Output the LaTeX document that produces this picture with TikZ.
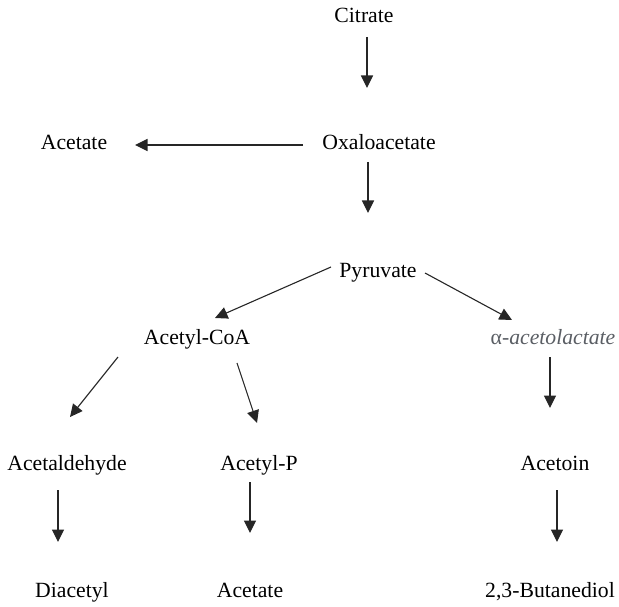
\documentclass[tikz,border=0pt]{standalone}
\usepackage{fontspec}
\setmainfont{Liberation Serif}
\usetikzlibrary{arrows.meta}
\definecolor{txtgray}{HTML}{5A5E64}
\begin{document}
\begin{tikzpicture}[x=1pt,y=-1pt,
  lbl/.style={anchor=base,inner sep=0pt,font=\fontsize{21.7}{26}\selectfont},
  arr/.style={line width=1.1pt,draw=black!85,-{Triangle[length=12.5pt,width=12pt]}}]
\useasboundingbox (0,0) rectangle (619,607);
\node[lbl] (cit) at (364,23) {Citrate};
\node[lbl] (oxa) at (379,150) {Oxaloacetate};
\node[lbl] (ac1) at (74,150) {Acetate};
\node[lbl] (pyr) at (378,277) {Pyruvate};
\node[lbl] (acoa) at (197,344) {Acetyl-CoA};
\node[lbl,text=txtgray] (aal) at (553,344) {α-\textit{acetolactate}};
\node[lbl] (ald) at (67,470) {Acetaldehyde};
\node[lbl] (acp) at (259,470) {Acetyl-P};
\node[lbl] (atn) at (555,470) {Acetoin};
\node[lbl] (dia) at (72,597) {Diacetyl};
\node[lbl] (ac2) at (250,597) {Acetate};
\node[lbl] (but) at (550,597) {2,3-Butanediol};
\draw[arr] ([shift={(3,14)}]cit.base) -- ([shift={(-12,-62)}]oxa.base);
\draw[arr] ([shift={(-76,-5)}]oxa.base) -- ([shift={(61,-5)}]ac1.base);
\draw[arr] ([shift={(-11,12)}]oxa.base) -- ([shift={(-10,-64)}]pyr.base);
\draw[arr] ([shift={(-47,-10)}]pyr.base) -- ([shift={(18,-26)}]acoa.base);
\draw[arr] ([shift={(47,-4)}]pyr.base) -- ([shift={(-41,-24)}]aal.base);
\draw[arr] ([shift={(-79,13)}]acoa.base) -- ([shift={(3,-53)}]ald.base);
\draw[arr] ([shift={(40,19)}]acoa.base) -- ([shift={(-2,-47)}]acp.base);
\draw[arr] ([shift={(-3,13)}]aal.base) -- ([shift={(-5,-62)}]atn.base);
\draw[arr] ([shift={(-9,20)}]ald.base) -- ([shift={(-14,-55)}]dia.base);
\draw[arr] ([shift={(-9,12)}]acp.base) -- ([shift={(0,-64)}]ac2.base);
\draw[arr] ([shift={(2,20)}]atn.base) -- ([shift={(7,-55)}]but.base);
\end{tikzpicture}
\end{document}
